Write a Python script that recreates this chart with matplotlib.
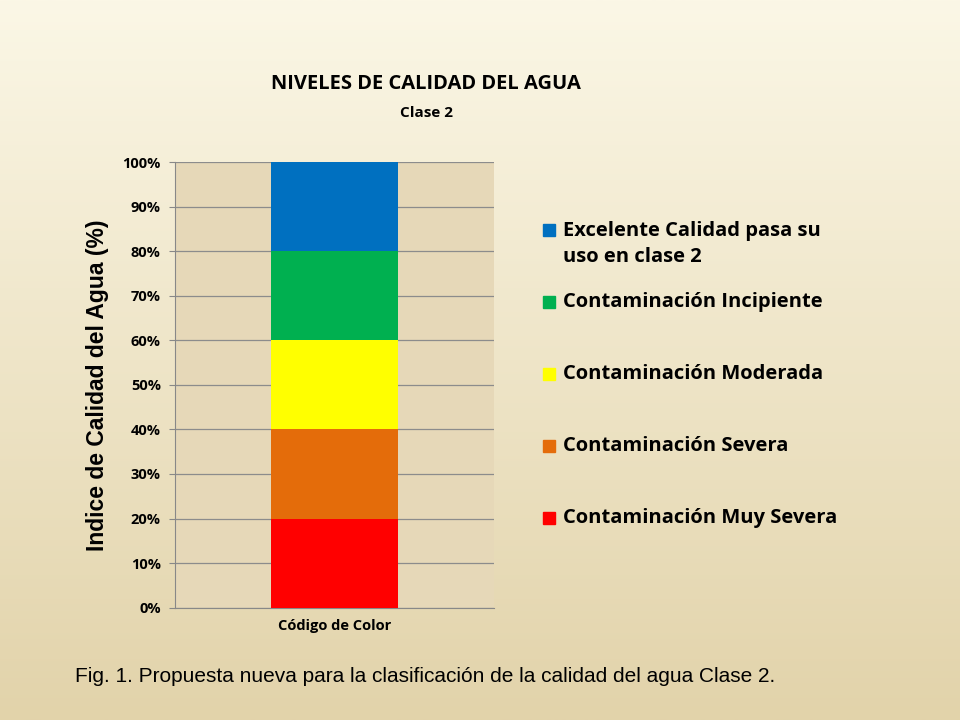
import numpy as np
import matplotlib
matplotlib.use("Agg")
import matplotlib.pyplot as plt
from matplotlib.patches import Rectangle

categories = ["Código de Color"]
series_names = ["Contaminación Muy Severa", "Contaminación Severa", "Contaminación Moderada",
                "Contaminación Incipiente", "Excelente Calidad pasa su\nuso en clase 2"]
series_values = [20, 20, 20, 20, 20]
colors = ["#FF0000", "#E46C0A", "#FFFF00", "#00B050", "#0070C0"]
yticks = [0, 10, 20, 30, 40, 50, 60, 70, 80, 90, 100]

fig = plt.figure(figsize=(9.6, 7.2), dpi=100)
bg = fig.add_axes([0, 0, 1, 1], zorder=-10)
grad = np.linspace(0, 1, 256)[:, None]
top = np.array([251, 247, 230]) / 255
bot = np.array([226, 211, 170]) / 255
img = top[None, None, :] * (1 - grad[:, :, None]) + bot[None, None, :] * grad[:, :, None]
bg.imshow(img, aspect="auto", extent=[0, 1, 0, 1])
bg.set_xlim(0, 1); bg.set_ylim(0, 1)
bg.axis("off")

ax = fig.add_axes([0.182, 0.156, 0.333, 0.619])
ax.set_facecolor("#E6D8B8")
bottom = 0
for name, v, c in zip(series_names, series_values, colors):
    ax.bar([0], [v], bottom=bottom, width=0.4, color=c, zorder=3)
    bottom += v
ax.set_xlim(-0.5, 0.5)
ax.set_ylim(0, 100)
ax.set_yticks(yticks)
ax.set_yticklabels([f"{t}%" for t in yticks], fontfamily="Open Sans", fontweight="bold", fontsize=10.5)
ax.set_xticks([0])
ax.set_xticklabels(categories, fontfamily="Open Sans", fontweight="bold", fontsize=10.5)
ax.tick_params(axis="x", length=0, pad=8)
ax.tick_params(axis="y", length=4, color="#888888", pad=6)
ax.grid(axis="y", color="#8C8C8C", linewidth=0.9, zorder=1)
for s in ["top", "right"]:
    ax.spines[s].set_visible(False)
ax.spines["left"].set_color("#888888")
ax.spines["bottom"].set_color("#888888")
ax.set_ylabel("Indice de Calidad del Agua (%)", fontfamily="Liberation Sans", fontweight="bold",
              fontsize=16.5, labelpad=10)

fig.text(0.444, 0.876, "NIVELES DE CALIDAD DEL AGUA", ha="center", fontfamily="Open Sans",
         fontweight="bold", fontsize=14.5)
fig.text(0.444, 0.838, "Clase 2", ha="center", fontfamily="Open Sans", fontweight="bold", fontsize=11)

# legend drawn manually (top entry first)
row_y = [518, 446, 374, 302, 244]
for name, c, yp in zip(series_names, colors, row_y):
    n_lines = name.count("\n") + 1
    yfirst = yp - 14 * (n_lines - 1)
    fig.patches.append(Rectangle((543 / 960, 1 - (yfirst + 6) / 720), 12 / 960, 12 / 720,
                                 transform=fig.transFigure, color=c))
    fig.text(563 / 960, 1 - yp / 720, name, va="center", ha="left", fontfamily="Open Sans",
             fontweight="bold", fontsize=14.5, linespacing=1.45)

fig.text(0.078, 0.053, "Fig. 1. Propuesta nueva para la clasificación de la calidad del agua Clase 2.",
         fontfamily="Liberation Sans", fontsize=15)
fig.savefig("out.png", dpi=100)
